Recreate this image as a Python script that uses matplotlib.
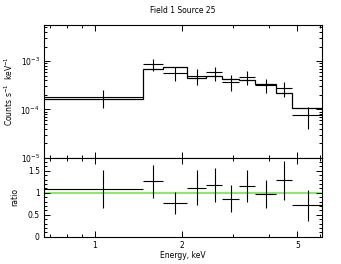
import numpy as np
import matplotlib.pyplot as plt
from matplotlib.ticker import FixedLocator, NullFormatter, FormatStrFormatter, MultipleLocator, LogLocator

# bin edges (keV)
edges = [0.667, 1.46, 1.712, 2.081, 2.428, 2.756, 3.145, 3.572, 4.209, 4.805, 6.08]
# folded model per bin (counts/s/keV)
model = [1.66e-4, 6.9e-4, 7.5e-4, 4.5e-4, 4.95e-4, 4.35e-4, 4.15e-4, 3.35e-4, 2.2e-4, 1.05e-4]
# observed data per bin and 1-sigma error
counts = [1.81e-4, 8.69e-4, 5.70e-4, 5.04e-4, 5.84e-4, 3.78e-4, 4.81e-4, 3.25e-4, 2.82e-4, 7.56e-5]
counts_err = [7.2e-5, 2.55e-4, 1.88e-4, 1.8e-4, 1.88e-4, 1.35e-4, 1.54e-4, 1.04e-4, 9.7e-5, 3.7e-5]

edges = np.array(edges)
model = np.array(model)
counts = np.array(counts)
counts_err = np.array(counts_err)
centers = (edges[:-1] + edges[1:]) / 2
halfw = (edges[1:] - edges[:-1]) / 2
ratio = counts / model
ratio_err = counts_err / model

plt.rcParams['font.size'] = 5.5
plt.rcParams['axes.linewidth'] = 0.8

fig = plt.figure(figsize=(3.41, 2.64), dpi=100)
ax1 = fig.add_axes([0.129, 0.4027, 0.815, 0.5023])
ax2 = fig.add_axes([0.129, 0.1034, 0.815, 0.2993], sharex=ax1)

# top panel: data + model
ax1.errorbar(centers, counts, xerr=halfw, yerr=counts_err, fmt='none',
             ecolor='black', elinewidth=0.8, capsize=0)
ax1.stairs(model, edges, baseline=None, color='black', lw=0.9)
ax1.set_xscale('log')
ax1.set_yscale('log')
ax1.set_ylim(1e-5, 5.6e-3)
ax1.set_xlim(edges[0], edges[-1])
ax1.yaxis.set_major_locator(LogLocator(base=10, numticks=10))
ax1.yaxis.set_minor_locator(LogLocator(base=10, subs=np.arange(2, 10), numticks=10))
ax1.set_ylabel('Counts s$^{-1}$  keV$^{-1}$', labelpad=4)
ax1.set_title('Field 1 Source 25', fontsize=5.5, pad=9)
plt.setp(ax1.get_xticklabels(which='both'), visible=False)

# bottom panel: ratio
ax2.axhline(1.0, color='#8ee86a', lw=1.5, zorder=1)
ax2.errorbar(centers, ratio, xerr=halfw, yerr=ratio_err, fmt='none',
             ecolor='black', elinewidth=0.8, capsize=0, zorder=2)
ax2.set_ylim(0, 1.8)
ax2.yaxis.set_major_locator(MultipleLocator(0.5))
ax2.yaxis.set_minor_locator(MultipleLocator(0.1))
ax2.yaxis.set_major_formatter(FormatStrFormatter('%g'))
ax2.set_ylabel('ratio', labelpad=6)
ax2.set_xlabel('Energy, keV', labelpad=1)

for ax in (ax1, ax2):
    ax.xaxis.set_major_locator(FixedLocator([1, 2, 5]))
    ax.xaxis.set_minor_locator(FixedLocator([0.7, 0.8, 0.9, 3, 4, 6]))
    ax.xaxis.set_minor_formatter(NullFormatter())
    ax.tick_params(which='both', direction='in', top=True, right=True, width=0.7)
    ax.tick_params(which='major', length=4, pad=3)
    ax.tick_params(which='minor', length=2)

ax2.xaxis.set_major_formatter(FormatStrFormatter('%g'))

fig.savefig('out.png', dpi=100)
